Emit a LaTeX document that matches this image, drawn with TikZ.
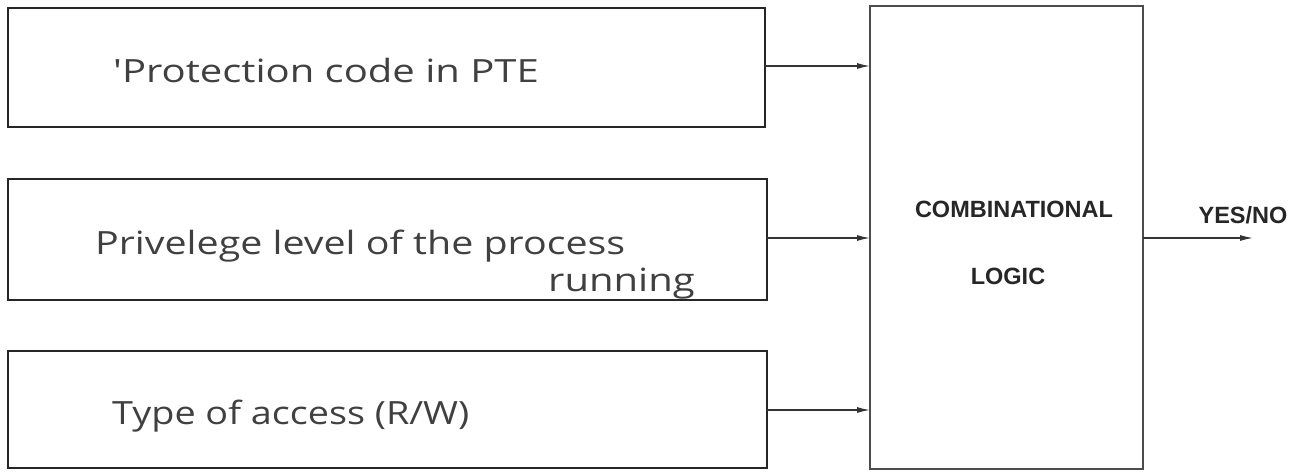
\documentclass[tikz,border=0pt]{standalone}
\usepackage{fontspec}
\setmainfont{Liberation Sans}
\newfontfamily\hand{Open Sans}
\usetikzlibrary{arrows.meta}
\newcommand{\handstretch}[2]{\scalebox{#1}[1]{#2}}
\begin{document}
\begin{tikzpicture}[x=1pt,y=-1pt,
  inbox/.style={draw=black!85,line width=2.6pt},
  logicbox/.style={draw=black!70,line width=1.6pt},
  conn/.style={draw=black!80,line width=1.3pt,-{Latex[length=13pt,width=6pt]}},
  handtxt/.style={font=\hand\fontsize{32}{36}\selectfont,text=black!75,anchor=west,inner sep=0pt},
  blk/.style={font=\bfseries\fontsize{23.5}{27}\selectfont,text=black!85,inner sep=0pt}]
\useasboundingbox (0,0) rectangle (1303,471);
\fill[white] (0,0) rectangle (1303,471);
% input boxes
\draw[inbox] (8,8) rectangle (765,127);
\draw[inbox] (8,179) rectangle (767,300);
\draw[inbox] (8,351) rectangle (767,468);
\coordinate (b1) at (765,66);
\coordinate (b2) at (767,238);
\coordinate (b3) at (767,410);
% logic box
\draw[logicbox] (870,6) rectangle (1143,469);
\coordinate (l1) at (870,66);
\coordinate (l2) at (870,238);
\coordinate (l3) at (870,410);
\coordinate (lo) at (1143,238);
\coordinate (out) at (1253,238);
% texts
\node[handtxt] (t1) at (113,70) {\handstretch{1.25}{'Protection code in PTE}};
\node[handtxt] (t2) at (95,246) {\handstretch{1.23}{Privelege level of the process}};
\node[handtxt,anchor=east] (t2b) at (695,284) {\handstretch{1.25}{running}};
\node[handtxt] (t3) at (112,416) {\handstretch{1.18}{Type of access (R/W)}};
\node[blk] (c1) at (1014,209) {COMBINATIONAL};
\node[blk] (c2) at (1008,276) {LOGIC};
\node[blk] (yn) at (1243,215) {YES/NO};
% connectors
\draw[conn] (b1) -- (l1);
\draw[conn] (b2) -- (l2);
\draw[conn] (b3) -- (l3);
\draw[conn] (lo) -- (out);
\end{tikzpicture}
\end{document}
